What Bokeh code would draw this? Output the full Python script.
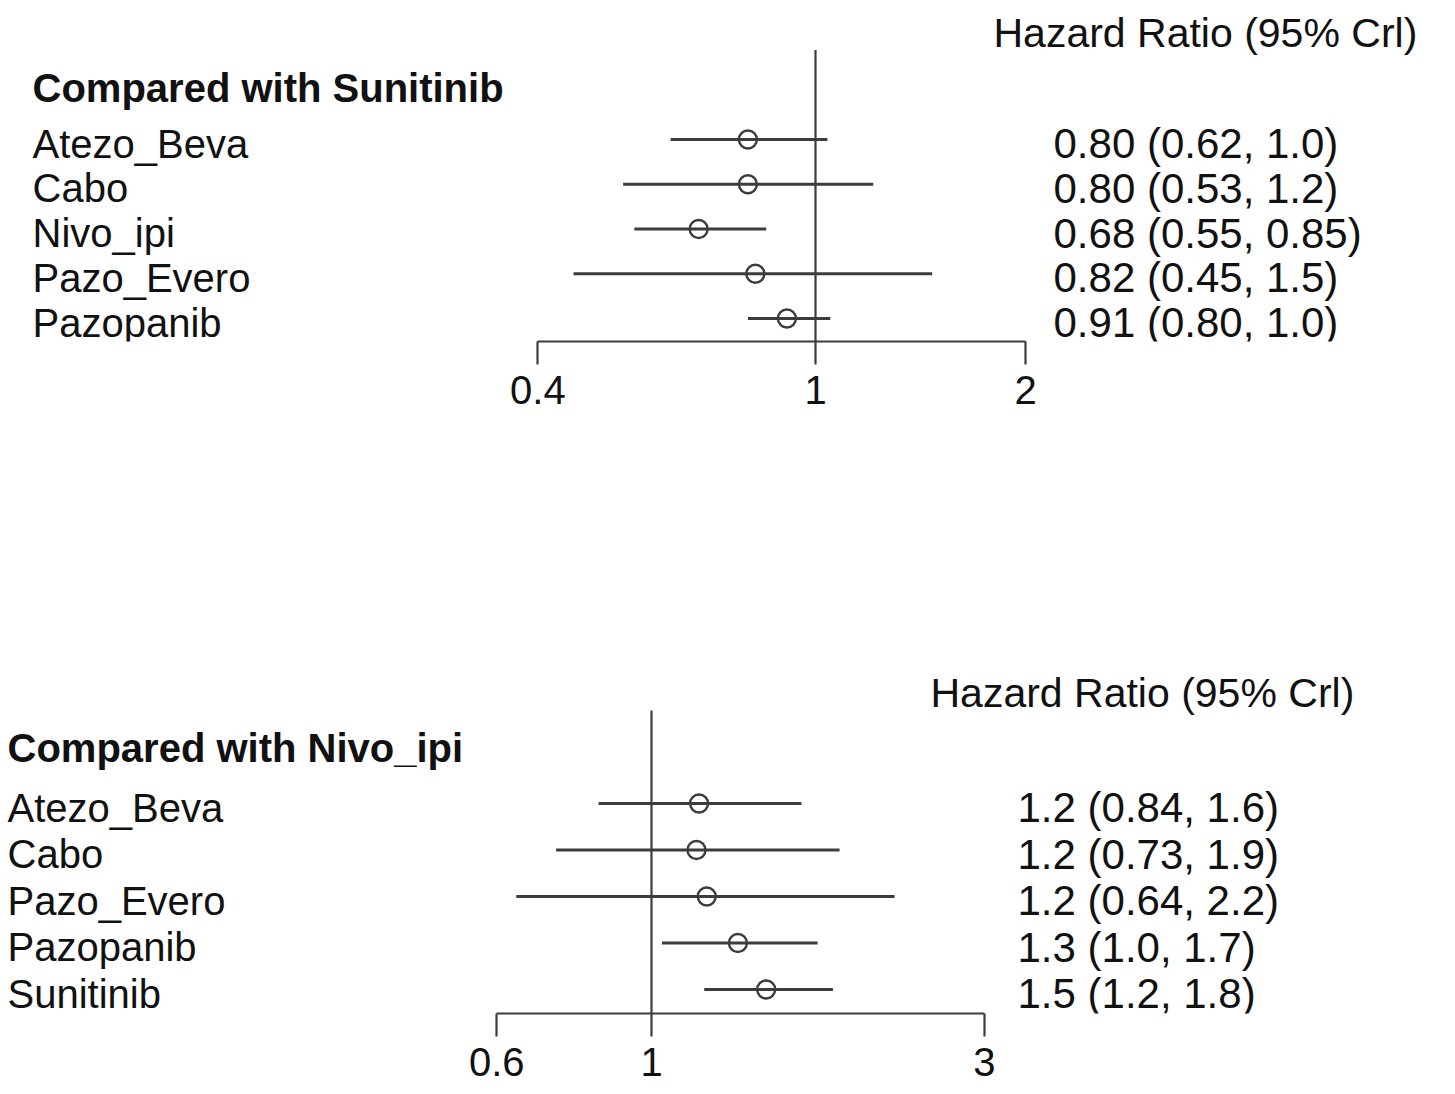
import numpy as np
from bokeh.plotting import figure
from bokeh.models import Range1d, FixedTicker
from bokeh.layouts import column
from bokeh.embed import file_html
from bokeh.resources import INLINE
from bokeh.core.properties import value

# ---------------- data ----------------
header_text = "Hazard Ratio (95% Crl)"

p1_title = "Compared with Sunitinib"
p1_treat = ["Atezo_Beva", "Cabo", "Nivo_ipi", "Pazo_Evero", "Pazopanib"]
p1_hr = [0.80, 0.80, 0.68, 0.82, 0.91]
p1_lo = [0.62, 0.53, 0.55, 0.45, 0.80]
p1_hi = [1.04, 1.21, 0.85, 1.47, 1.05]
p1_text = ["0.80 (0.62, 1.0)", "0.80 (0.53, 1.2)", "0.68 (0.55, 0.85)",
           "0.82 (0.45, 1.5)", "0.91 (0.80, 1.0)"]
p1_ticks = [0.4, 1, 2]
p1_tick_labels = ["0.4", "1", "2"]

p2_title = "Compared with Nivo_ipi"
p2_treat = ["Atezo_Beva", "Cabo", "Pazo_Evero", "Pazopanib", "Sunitinib"]
p2_hr = [1.17, 1.16, 1.20, 1.33, 1.46]
p2_lo = [0.84, 0.73, 0.64, 1.035, 1.19]
p2_hi = [1.64, 1.86, 2.23, 1.73, 1.82]
p2_text = ["1.2 (0.84, 1.6)", "1.2 (0.73, 1.9)", "1.2 (0.64, 2.2)",
           "1.3 (1.0, 1.7)", "1.5 (1.2, 1.8)"]
p2_ticks = [0.6, 1, 3]
p2_tick_labels = ["0.6", "1", "3"]

null_value = [1]

# ---------------- layout / style ----------------
W = 1455
H = 547
PPU = 303.0          # pixels per natural-log unit
FONT = "Liberation Sans"
LINE_C = "#3c3c3c"
TEXT_C = "#111111"


def panel(title, treat, hr, lo, hi, txt, ticks, tick_labels, lay):
    ref_px = lay["ref_px"]

    def px2x(px):
        return float(np.exp((px - ref_px) / PPU))

    row1, rh, fh = lay["row1_px"], lay["row_h"], lay["frame_h"]

    def px2y(py):
        return 1 + (py - row1) / rh

    p = figure(width=W, height=H, x_axis_type="log",
               x_range=Range1d(px2x(0), px2x(W)),
               y_range=Range1d(px2y(fh), px2y(0)),
               output_backend="svg", toolbar_location=None,
               y_axis_location=None, min_border_left=0, min_border_right=0,
               min_border_top=0, min_border_bottom=H - fh)
    p.outline_line_color = None
    p.xgrid.visible = False
    p.ygrid.visible = False
    p.background_fill_color = "white"
    p.border_fill_color = "white"

    rows = list(range(1, len(treat) + 1))
    shift = 4.0 / rh

    # reference line
    p.segment(x0=null_value, y0=[-1], x1=null_value, y1=[px2y(fh)],
              line_color=LINE_C, line_width=2.2)
    # CIs
    p.segment(x0=lo, y0=rows, x1=hi, y1=rows, line_color=LINE_C, line_width=3)
    p.scatter(x=hr, y=rows, marker="circle", size=18, fill_color=None,
              line_color=LINE_C, line_width=2.4)

    # left labels
    lx = px2x(lay["left_px"])
    p.text(x=[lx] * len(treat), y=[r + shift for r in rows], text=treat,
           text_font=value(FONT), text_font_size="40px", text_color=TEXT_C,
           text_baseline="middle", text_align="left")
    p.text(x=[lx], y=[px2y(lay["title_px"])], text=[title],
           text_font=value(FONT), text_font_size="40px", text_font_style="bold",
           text_color=TEXT_C, text_baseline="middle", text_align="left")
    # right labels
    rx = px2x(lay["right_px"])
    p.text(x=[rx] * len(txt), y=[r + shift for r in rows], text=txt,
           text_font=value(FONT), text_font_size="42px", text_color=TEXT_C,
           text_baseline="middle", text_align="left")
    p.text(x=[px2x(lay["hdr_px"])], y=[px2y(lay["hdr_y_px"])], text=[header_text],
           text_font=value(FONT), text_font_size="41px", text_color=TEXT_C,
           text_baseline="middle", text_align="left")

    ax = p.xaxis[0]
    ax.ticker = FixedTicker(ticks=ticks, minor_ticks=[])
    ax.major_label_overrides = {t: l for t, l in zip(ticks, tick_labels)}
    ax.bounds = (min(ticks), max(ticks))
    ax.axis_line_color = LINE_C
    ax.axis_line_width = 2.2
    ax.major_tick_line_color = LINE_C
    ax.major_tick_line_width = 2.2
    ax.major_tick_in = 0
    ax.major_tick_out = 23
    ax.minor_tick_line_color = None
    ax.major_label_standoff = 11
    ax.major_label_text_font = FONT
    ax.major_label_text_font_size = "40px"
    ax.major_label_text_color = TEXT_C
    return p


lay1 = dict(ref_px=815, row1_px=139, row_h=44.75, frame_h=341, left_px=32,
            title_px=87, right_px=1053, hdr_px=993, hdr_y_px=32)
lay2 = dict(ref_px=651, row1_px=803 - H, row_h=46.5, frame_h=1013 - H, left_px=7,
            title_px=747 - H, right_px=1017, hdr_px=930, hdr_y_px=692 - H)

top = panel(p1_title, p1_treat, p1_hr, p1_lo, p1_hi, p1_text, p1_ticks, p1_tick_labels, lay1)
bot = panel(p2_title, p2_treat, p2_hr, p2_lo, p2_hi, p2_text, p2_ticks, p2_tick_labels, lay2)

layout = column(top, bot, spacing=0)
open("out.html", "w").write(file_html(layout, INLINE))
